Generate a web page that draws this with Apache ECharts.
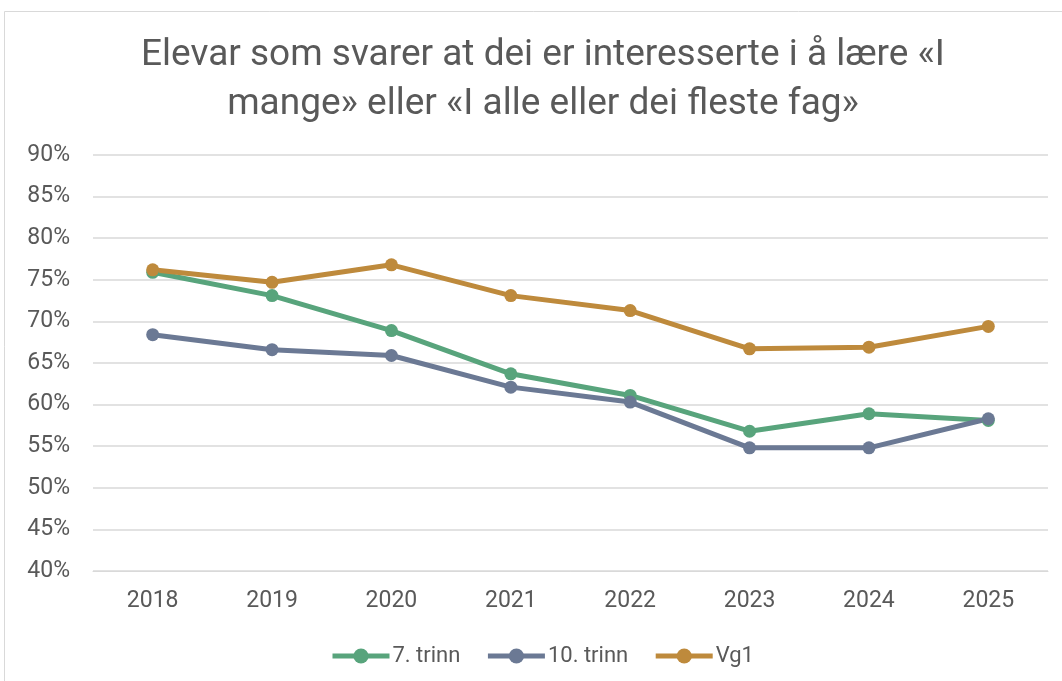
<!DOCTYPE html>
<html><head><meta charset="utf-8">
<script src="https://cdn.jsdelivr.net/npm/echarts@6/dist/echarts.min.js"></script>
<style>html,body{margin:0;padding:0;background:#fff}#c{width:1062px;height:681px}</style>
</head><body><div id="c"></div>
<script>
const categories = ['2018','2019','2020','2021','2022','2023','2024','2025'];
const trinn7 = [75.9, 73.1, 68.9, 63.7, 61.1, 56.8, 58.9, 58.1];
const trinn10 = [68.4, 66.6, 65.9, 62.1, 60.3, 54.8, 54.8, 58.3];
const vg1 = [76.2, 74.7, 76.8, 73.1, 71.3, 66.7, 66.9, 69.4];
const seriesNames = ['7. trinn', '10. trinn', 'Vg1'];
const colors = ['#58A47C', '#6B7994', '#BE8A3C'];
const titleText = 'Elevar som svarer at dei er interesserte i å lære «I\nmange» eller «I alle eller dei fleste fag»';

const chart = echarts.init(document.getElementById('c'), null, {renderer: 'canvas'});
const font = 'Roboto';
const mk = (name, data, color) => ({
  name, type: 'line', data, color,
  symbol: 'circle', symbolSize: 13,
  lineStyle: {width: 5, color},
  itemStyle: {color},
  emphasis: {disabled: true}
});
chart.setOption({
  animation: false,
  backgroundColor: '#fff',
  graphic: [{type: 'rect', shape: {x: 4.5, y: 11.5, width: 1070, height: 700},
    style: {fill: 'none', stroke: '#D9D9D9', lineWidth: 1}}],
  title: {text: titleText, left: 538, textAlign: 'center', top: 26,
    textStyle: {fontFamily: font, fontSize: 37, fontWeight: 'normal', color: '#595959', lineHeight: 49}},
  legend: {top: 640, left: 325, itemWidth: 57, itemHeight: 19, itemGap: 25,
    lineStyle: {width: 5},
    textStyle: {fontFamily: font, fontSize: 22, color: '#595959', padding: [0, 0, 0, -2]},
    data: seriesNames},
  grid: {left: 93, right: 14, top: 155, bottom: 110},
  xAxis: {type: 'category', data: categories, boundaryGap: true,
    axisLine: {lineStyle: {color: '#D9D9D9', width: 1}}, axisTick: {show: false},
    axisLabel: {fontFamily: font, fontSize: 23, color: '#595959', margin: 19}},
  yAxis: {type: 'value', min: 40, max: 90, interval: 5,
    axisLine: {show: false}, axisTick: {show: false},
    splitLine: {lineStyle: {color: '#D9D9D9', width: 1.5}},
    axisLabel: {fontFamily: font, fontSize: 23, color: '#595959', margin: 23, formatter: v => v + '%'}},
  series: [mk(seriesNames[0], trinn7, colors[0]), mk(seriesNames[1], trinn10, colors[1]), mk(seriesNames[2], vg1, colors[2])]
});
</script></body></html>
